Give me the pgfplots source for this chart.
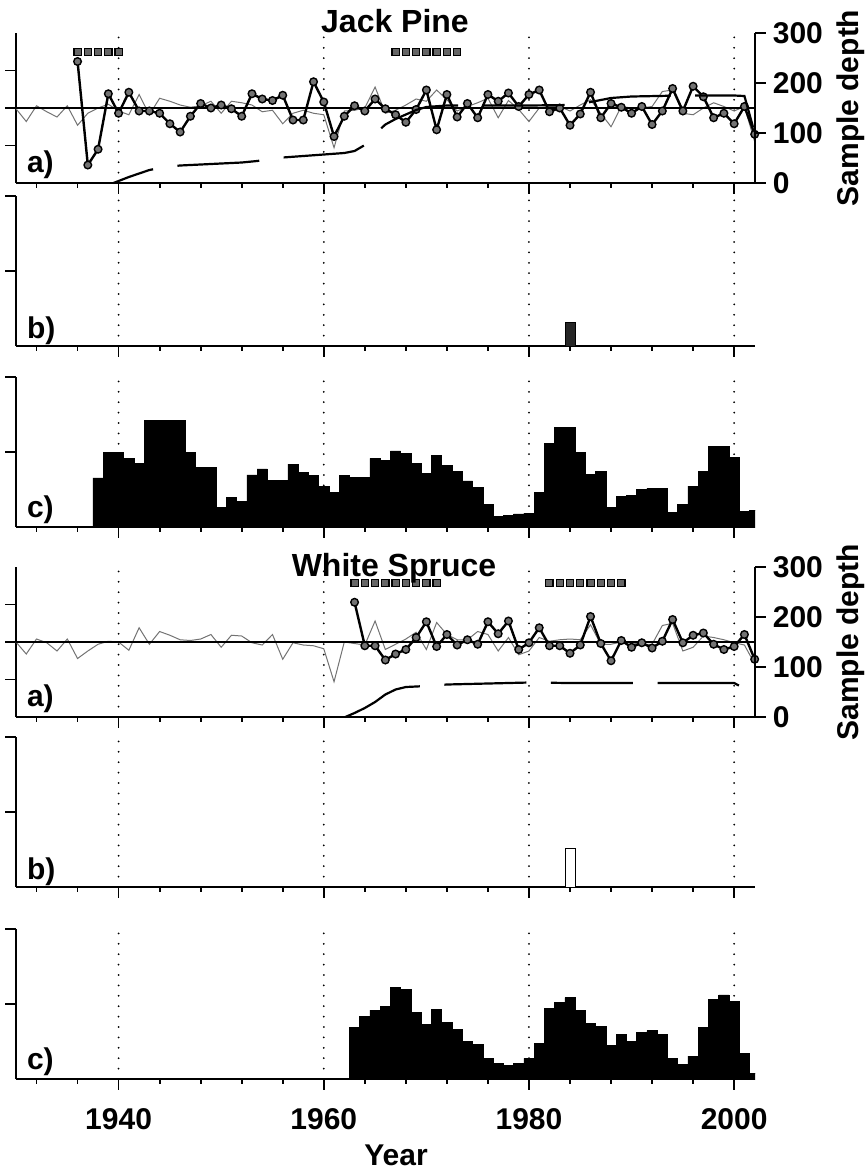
\documentclass[border=0pt]{standalone}
\usepackage{fontspec}
\setmainfont{Liberation Sans}
\usepackage{pgfplots}
\pgfplotsset{compat=1.18}

\newcommand{\lab}{\bfseries\fontsize{15pt}{15pt}\selectfont}

\pgfplotsset{
  panel/.style={
    scale only axis, width=369.6pt, height=75pt,
    at={(8pt,#1)}, anchor=south west,
    xmin=1930, xmax=2002.05,
    axis x line*=bottom, axis y line*=left,
    axis line style={-, line width=0.9pt},
    tick align=outside,
    tick style={black, line width=0.9pt},
    major tick length=5.3pt, minor tick length=2.4pt,
    xtick={1940,1960,1980,2000},
    minor xtick={1932,1936,1944,1948,1952,1956,1964,1968,1972,1976,1984,1988,1992,1996},
    xticklabels={}, yticklabels={},
    xmajorgrids,
    major grid style={black, line width=1pt, line cap=round, dash pattern=on 0pt off 5.2pt},
    /pgf/number format/assume math mode=true,
    ticklabel style={font=\lab},
  },
  idx/.style={panel=#1, ymin=0, ymax=2, ytick={0.5,1,1.5}, clip=false},
  cnt/.style={panel=#1, ymin=0, ymax=100, ytick={50,100}},
  depth/.style={
    scale only axis, width=369.6pt, height=75pt,
    at={(8pt,#1)}, anchor=south west,
    xmin=1930, xmax=2002.05, ymin=0, ymax=300,
    axis x line=none, axis y line*=right,
    axis line style={-, line width=0.9pt},
    tick align=outside,
    tick style={black, line width=0.9pt},
    major tick length=5.3pt,
    ytick={0,100,200,300},
    /pgf/number format/assume math mode=true,
    yticklabel style={font=\lab},
    ylabel={Sample depth}, ylabel style={font=\lab},
    clip=false,
  },
  thin/.style={black!55, line width=0.5pt},
  thick/.style={black, line width=1.2pt, mark=*, mark size=1.9pt,
    mark options={fill=black!55, draw=black, line width=0.7pt}},
  mean/.style={black, line width=1pt},
  sq/.style={only marks, mark=square*, mark size=1.8pt,
    mark options={fill=black!60, draw=black, line width=0.6pt}},
  dep/.style={black, line width=1.1pt, dash pattern=on 41pt off 12.3pt, dash phase=#1},
  cbar/.style={ybar, bar width=1, bar shift=0pt, fill=black, draw=black, line width=0.3pt},
}

\begin{document}
\begin{tikzpicture}
\useasboundingbox (0,0) rectangle (433.5pt,-587pt);

% ---------------- Jack Pine ----------------
\begin{axis}[idx=-91.5pt]
\addplot[thin] table {
1930 0.99
1931 0.82
1932 1.03
1933 0.95
1934 0.88
1935 1.03
1936 0.77
1937 0.93
1938 1.00
1939 1.05
1940 0.96
1941 0.91
1942 1.18
1943 0.91
1944 1.13
1945 1.09
1946 1.04
1947 1.01
1948 1.03
1949 1.09
1950 0.93
1951 1.09
1952 1.07
1953 1.04
1954 0.95
1955 0.97
1956 0.79
1957 0.93
1958 0.97
1959 0.93
1960 0.91
1961 0.47
1962 0.96
1963 0.97
1964 1.00
1965 1.28
1966 0.93
1967 0.97
1968 1.04
1969 1.12
1970 1.09
1971 1.24
1972 1.11
1973 0.96
1974 1.02
1975 1.07
1976 1.13
1977 0.87
1978 1.10
1979 0.98
1980 0.82
1981 1.00
1982 1.02
1983 1.02
1984 0.96
1985 1.04
1986 1.11
1987 0.93
1988 0.75
1989 1.02
1990 1.00
1991 1.00
1992 1.02
1993 1.22
1994 1.24
1995 0.93
1996 0.91
1997 1.00
1998 1.07
1999 1.02
2000 0.96
2001 1.02
2002 0.55
};
\addplot[mean] coordinates {(1930,1) (2002.05,1)};
\addplot[thick] table {
1936 1.62
1937 0.24
1938 0.45
1939 1.19
1940 0.93
1941 1.21
1942 0.96
1943 0.96
1944 0.93
1945 0.79
1946 0.68
1947 0.89
1948 1.06
1949 1.00
1950 1.04
1951 0.99
1952 0.89
1953 1.19
1954 1.12
1955 1.10
1956 1.17
1957 0.84
1958 0.84
1959 1.35
1960 1.08
1961 0.62
1962 0.89
1963 1.03
1964 0.96
1965 1.12
1966 0.99
1967 0.91
1968 0.81
1969 0.98
1970 1.24
1971 0.71
1972 1.18
1973 0.88
1974 1.06
1975 0.87
1976 1.18
1977 1.09
1978 1.20
1979 1.02
1980 1.18
1981 1.24
1982 0.95
1983 1.00
1984 0.77
1985 0.92
1986 1.21
1987 0.87
1988 1.06
1989 1.01
1990 0.93
1991 1.02
1992 0.78
1993 0.96
1994 1.26
1995 0.96
1996 1.29
1997 1.15
1998 0.87
1999 0.93
2000 0.79
2001 1.02
2002 0.65
};
\addplot[sq] coordinates {(1936,1.75) (1937,1.75) (1938,1.75) (1939,1.75) (1940,1.75)
  (1967,1.75) (1968,1.75) (1969,1.75) (1970,1.75) (1971,1.75) (1972,1.75) (1973,1.75)};
\node[anchor=base west, font=\lab, xshift=2pt, yshift=5.5pt] at (rel axis cs:0,0) {a)};
\end{axis}
\begin{axis}[depth=-91.5pt]
\addplot[dep=20pt] table {
1939.5 0
1940 4
1941 12
1942 19
1943 26
1944 30
1945 33
1946 35
1948 37
1950 39
1952 41
1953.5 44
1956 51
1958 54
1960 57
1962 60
1963 64
1964 76
1965 98
1966 117
1967 128
1968 137
1969 146
1970 152
1972 155
1976 155
1980 155
1984 156
1986 162
1987 166
1988 170
1990 173
1995 175
2000 175
2001 174
2002 100
};
\end{axis}

\begin{axis}[cnt=-173pt]
\addplot[cbar, fill=black!85] coordinates {(1984,16)};
\node[anchor=base west, font=\lab, xshift=2pt, yshift=4pt] at (rel axis cs:0,0) {b)};
\end{axis}

\begin{axis}[cnt=-263.5pt]
\addplot[cbar] table {
1938 32.7
1939 49.8
1940 49.8
1941 45.8
1942 42.5
1943 71.1
1944 71.1
1945 71.1
1946 71.1
1947 49.8
1948 39.5
1949 39.5
1950 12.9
1951 19.5
1952 17.3
1953 34.7
1954 38.7
1955 31.1
1956 31.1
1957 42.0
1958 36.2
1959 34.5
1960 26.9
1961 23.1
1962 34.2
1963 33.1
1964 33.1
1965 45.8
1966 44.2
1967 50.7
1968 48.9
1969 42.2
1970 35.8
1971 48.0
1972 41.1
1973 36.9
1974 30.7
1975 26.5
1976 15.1
1977 6.9
1978 8.0
1979 8.7
1980 9.3
1981 23.3
1982 55.5
1983 66.5
1984 66.5
1985 49.8
1986 35.3
1987 37.3
1988 13.3
1989 20.2
1990 21.3
1991 25.1
1992 26.0
1993 26.0
1994 9.8
1995 15.3
1996 27.3
1997 37.3
1998 54.0
1999 54.0
2000 46.5
2001 10.5
2002 11.3
};
\node[anchor=base west, font=\lab, xshift=2pt, yshift=5pt] at (rel axis cs:0,0) {c)};
\end{axis}

% ---------------- White Spruce ----------------
\begin{axis}[idx=-358.5pt]
\addplot[thin] table {
1930 1.00
1931 0.84
1932 1.04
1933 0.99
1934 0.88
1935 1.04
1936 0.78
1937 0.88
1938 0.97
1939 1.01
1940 1.00
1941 0.89
1942 1.19
1943 0.97
1944 1.14
1945 1.09
1946 1.03
1947 1.02
1948 1.04
1949 1.10
1950 0.93
1951 1.09
1952 1.08
1953 0.99
1954 0.96
1955 1.10
1956 0.77
1957 0.99
1958 0.96
1959 0.95
1960 0.91
1961 0.47
1962 1.00
1963 0.98
1964 0.96
1965 1.28
1966 0.90
1967 0.97
1968 1.04
1969 1.13
1970 0.90
1971 1.26
1972 1.10
1973 1.03
1974 1.03
1975 1.14
1976 1.10
1977 0.88
1978 1.06
1979 0.83
1980 0.88
1981 1.06
1982 1.01
1983 1.03
1984 1.04
1985 1.03
1986 1.23
1987 0.97
1988 0.97
1989 1.00
1990 0.99
1991 0.97
1992 0.97
1993 1.22
1994 1.25
1995 0.88
1996 0.93
1997 1.08
1998 1.06
1999 1.03
2000 0.99
2001 0.96
2002 0.71
};
\addplot[mean] coordinates {(1930,1) (2002.05,1)};
\addplot[thick] table {
1963 1.53
1964 0.95
1965 0.95
1966 0.76
1967 0.84
1968 0.90
1969 1.06
1970 1.27
1971 0.94
1972 1.10
1973 0.96
1974 1.03
1975 0.97
1976 1.27
1977 1.11
1978 1.28
1979 0.90
1980 0.99
1981 1.19
1982 0.95
1983 0.95
1984 0.85
1985 0.96
1986 1.34
1987 0.98
1988 0.75
1989 1.02
1990 0.93
1991 0.99
1992 0.92
1993 1.01
1994 1.30
1995 0.99
1996 1.09
1997 1.12
1998 0.97
1999 0.90
2000 0.94
2001 1.10
2002 0.77
};
\addplot[sq] coordinates {(1963,1.79) (1964,1.79) (1965,1.79) (1966,1.79) (1967,1.79)
  (1968,1.79) (1969,1.79) (1970,1.79) (1971,1.79)
  (1982,1.79) (1983,1.79) (1984,1.79) (1985,1.79) (1986,1.79) (1987,1.79) (1988,1.79) (1989,1.79)};
\node[anchor=base west, font=\lab, xshift=2pt, yshift=5.5pt] at (rel axis cs:0,0) {a)};
\end{axis}
\begin{axis}[depth=-358.5pt]
\addplot[dep=0pt] table {
1962.1 0
1963 8
1964 18
1965 30
1966 45
1967 55
1968 60
1969 61
1970 62
1972 65
1976 67
1980 69
1984 68
1990 68
1995 68
2000 68
2001 57
};
\end{axis}

\begin{axis}[cnt=-443.5pt]
\addplot[cbar, fill=white] coordinates {(1984,25.6)};
\node[anchor=base west, font=\lab, xshift=2pt, yshift=4pt] at (rel axis cs:0,0) {b)};
\end{axis}

\begin{axis}[cnt=-539.5pt,
  xticklabels={1940,1960,1980,2000},
  xticklabel style={font=\lab, yshift=-6pt}]
\addplot[cbar] table {
1963 34.2
1964 41.5
1965 45.9
1966 48.5
1967 60.9
1968 59.6
1969 44.4
1970 36.2
1971 46.4
1972 37.7
1973 33.1
1974 25.2
1975 23.2
1976 13.7
1977 10.6
1978 9.3
1979 10.6
1980 13.7
1981 23.6
1982 47.0
1983 51.2
1984 54.3
1985 45.5
1986 36.9
1987 35.3
1988 22.3
1989 29.6
1990 25.0
1991 30.9
1992 32.2
1993 29.6
1994 13.7
1995 9.5
1996 15.2
1997 34.2
1998 53.0
1999 56.1
2000 51.7
2001 17.2
2002 4.0
};
\node[anchor=base west, font=\lab, xshift=2pt, yshift=5pt] at (rel axis cs:0,0) {c)};
\end{axis}

\node[anchor=base, font=\bfseries\fontsize{16pt}{16pt}\selectfont] at (197.5pt,-16pt) {Jack Pine};
\node[anchor=base, font=\bfseries\fontsize{16pt}{16pt}\selectfont] at (197pt,-288pt) {White Spruce};
\node[anchor=base, font=\lab] at (198pt,-582.5pt) {Year};
\end{tikzpicture}
\end{document}
